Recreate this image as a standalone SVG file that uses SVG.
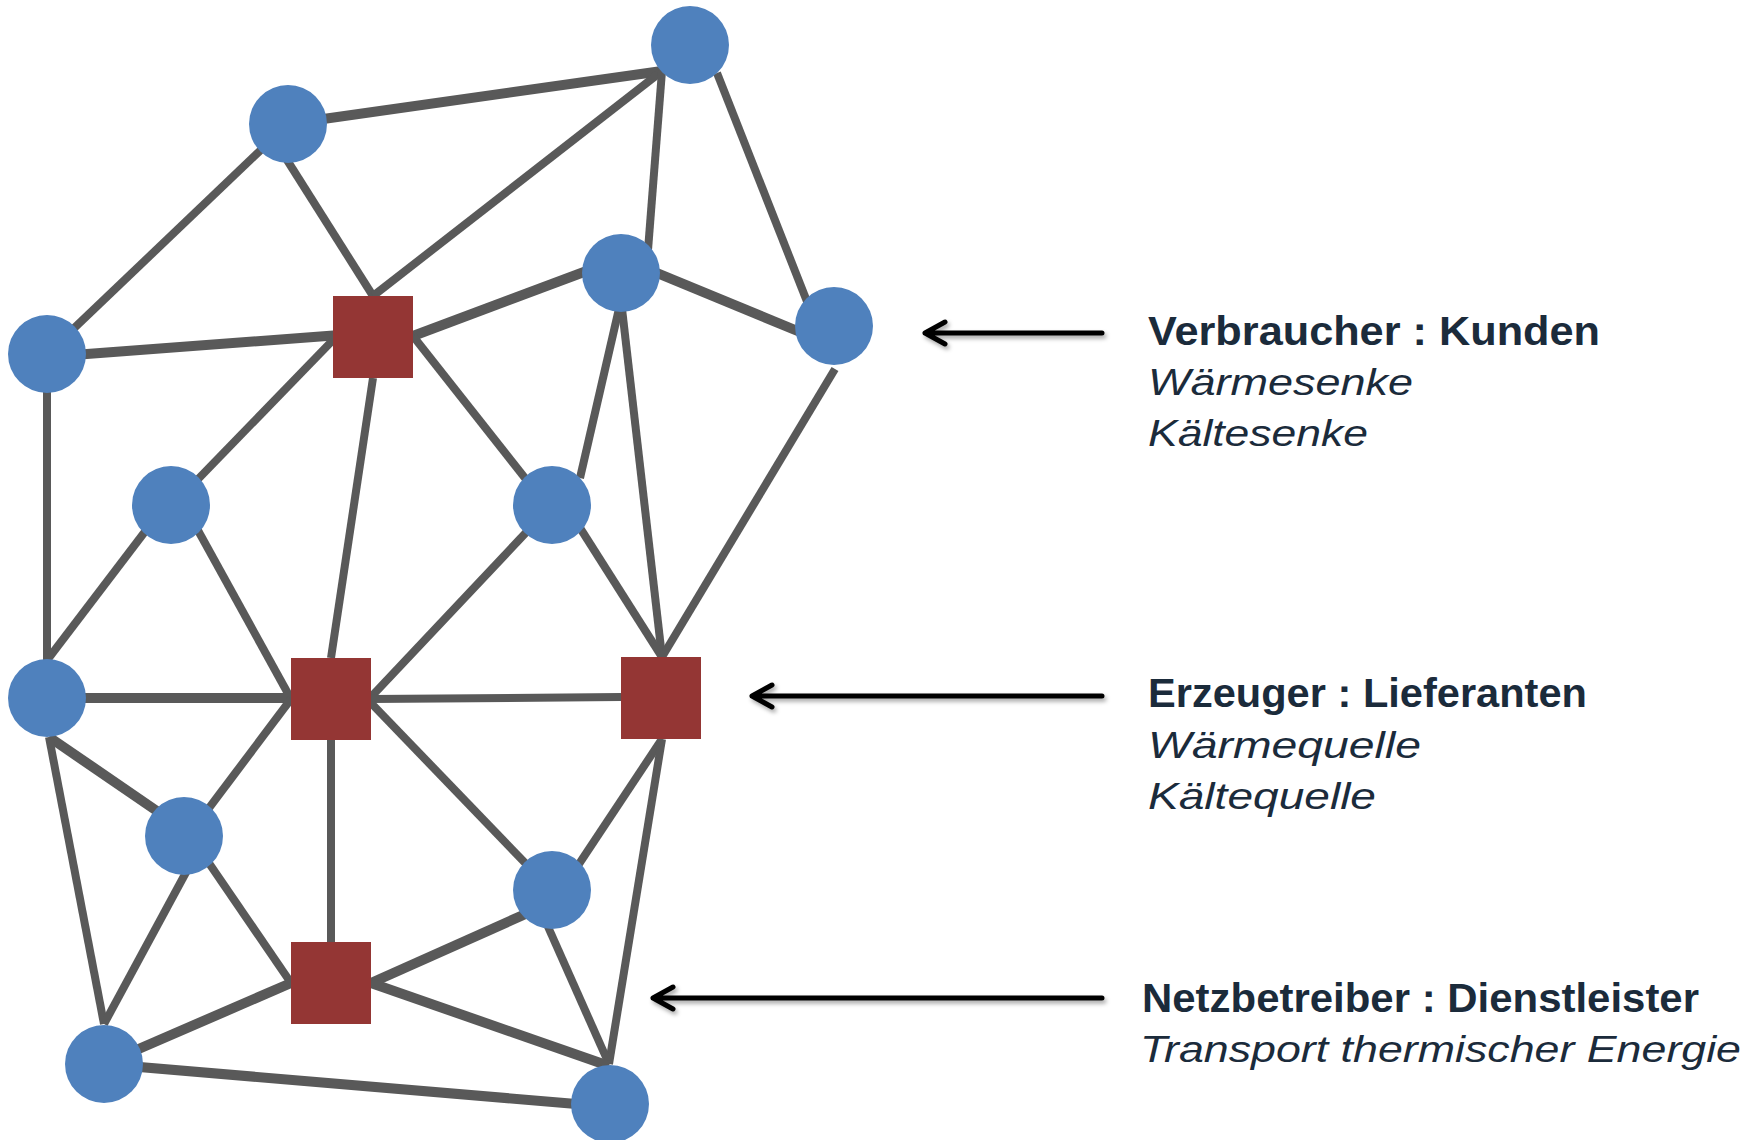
<svg xmlns="http://www.w3.org/2000/svg" width="1764" height="1140" viewBox="0 0 1764 1140">
<defs>
<style>
.e{stroke:#595959;stroke-width:8;fill:none;stroke-linecap:butt}
.t{stroke-width:10}
.c{fill:#4F81BD}
.s{fill:#943634}
.ar{stroke:#000;stroke-width:5;fill:none;stroke-linecap:round;stroke-linejoin:round}
.h{font-family:"Liberation Sans",Arial,sans-serif;font-weight:bold;font-size:41px;fill:#1B2B3B}
.i{font-family:"Liberation Sans",Arial,sans-serif;font-style:italic;font-size:37px;fill:#1B2B3B}
</style>
<filter id="sh" x="-10%" y="-100%" width="120%" height="300%">
<feDropShadow dx="2" dy="3" stdDeviation="2" flood-color="#000" flood-opacity="0.35"/>
</filter>
</defs>
<rect width="1764" height="1140" fill="#fff"/>
<g id="connectors">
<line class="e t" x1="288" y1="124" x2="662" y2="71"/>
<line class="e" x1="287" y1="160" x2="373" y2="296"/>
<line class="e" x1="373" y1="296" x2="662" y2="71"/>
<line class="e" x1="47" y1="354" x2="288" y2="124"/>
<line class="e t" x1="47" y1="357" x2="340" y2="335"/>
<line class="e" x1="648" y1="250" x2="662" y2="71"/>
<line class="e" x1="717" y1="73" x2="808" y2="304"/>
<line class="e t" x1="413" y1="336" x2="600" y2="266"/>
<line class="e t" x1="640" y1="266" x2="800" y2="332"/>
<line class="e" x1="333" y1="340" x2="171" y2="507"/>
<line class="e" x1="373" y1="378" x2="331" y2="658"/>
<line class="e" x1="413" y1="336" x2="540" y2="497"/>
<line class="e" x1="621" y1="300" x2="580" y2="478"/>
<line class="e" x1="621" y1="300" x2="662" y2="657"/>
<line class="e" x1="835" y1="369" x2="662" y2="657"/>
<line class="e" x1="47" y1="354" x2="47" y2="698"/>
<line class="e" x1="150" y1="525" x2="48" y2="659"/>
<line class="e" x1="195" y1="525" x2="291" y2="699"/>
<line class="e" x1="552" y1="505" x2="371" y2="697"/>
<line class="e" x1="575" y1="520" x2="662" y2="657"/>
<line class="e t" x1="47" y1="698" x2="291" y2="698"/>
<line class="e" x1="371" y1="699" x2="621" y2="697"/>
<line class="e t" x1="49" y1="737" x2="170" y2="820"/>
<line class="e" x1="49" y1="737" x2="104" y2="1024"/>
<line class="e" x1="200" y1="820" x2="291" y2="699"/>
<line class="e" x1="200" y1="850" x2="291" y2="983"/>
<line class="e" x1="190" y1="865" x2="104" y2="1024"/>
<line class="e" x1="331" y1="740" x2="331" y2="942"/>
<line class="e" x1="371" y1="703" x2="530" y2="868"/>
<line class="e" x1="662" y1="739" x2="575" y2="870"/>
<line class="e" x1="662" y1="739" x2="609" y2="1064"/>
<line class="e t" x1="530" y1="912" x2="371" y2="983"/>
<line class="e" x1="545" y1="920" x2="609" y2="1064"/>
<line class="e t" x1="371" y1="983" x2="609" y2="1066"/>
<line class="e t" x1="291" y1="983" x2="104" y2="1064"/>
<line class="e t" x1="104" y1="1064" x2="600" y2="1106"/>
</g>
<g id="n1"><circle class="c" cx="690" cy="45" r="39"/></g>
<g id="n2"><circle class="c" cx="288" cy="124" r="39"/></g>
<g id="n3"><circle class="c" cx="47" cy="354" r="39"/></g>
<g id="n4"><circle class="c" cx="621" cy="273" r="39"/></g>
<g id="n5"><circle class="c" cx="834" cy="326" r="39"/></g>
<g id="n6"><circle class="c" cx="171" cy="505" r="39"/></g>
<g id="n7"><circle class="c" cx="552" cy="505" r="39"/></g>
<g id="n8"><circle class="c" cx="47" cy="698" r="39"/></g>
<g id="n9"><circle class="c" cx="184" cy="836" r="39"/></g>
<g id="n10"><circle class="c" cx="552" cy="890" r="39"/></g>
<g id="n11"><circle class="c" cx="104" cy="1064" r="39"/></g>
<g id="n12"><circle class="c" cx="610" cy="1104" r="39"/></g>
<g id="sA"><rect class="s" x="333" y="296" width="80" height="82"/></g>
<g id="sB"><rect class="s" x="291" y="658" width="80" height="82"/></g>
<g id="sC"><rect class="s" x="621" y="657" width="80" height="82"/></g>
<g id="sD"><rect class="s" x="291" y="942" width="80" height="82"/></g>
<g id="arrows" filter="url(#sh)">
<path class="ar" d="M1102 333H925M945 322L925 333L945 344"/>
<path class="ar" d="M1102 696H752M772 685L752 696L772 707"/>
<path class="ar" d="M1102 998H653M673 987L653 998L673 1009"/>
</g>
<g id="label1">
<text class="h" x="1148" y="345" textLength="452" lengthAdjust="spacingAndGlyphs">Verbraucher : Kunden</text>
<text class="i" x="1148" y="395" textLength="265" lengthAdjust="spacingAndGlyphs">Wärmesenke</text>
<text class="i" x="1148" y="446" textLength="220" lengthAdjust="spacingAndGlyphs">Kältesenke</text>
</g>
<g id="label2">
<text class="h" x="1148" y="707" textLength="439" lengthAdjust="spacingAndGlyphs">Erzeuger : Lieferanten</text>
<text class="i" x="1148" y="758" textLength="273" lengthAdjust="spacingAndGlyphs">Wärmequelle</text>
<text class="i" x="1148" y="809" textLength="228" lengthAdjust="spacingAndGlyphs">Kältequelle</text>
</g>
<g id="label3">
<text class="h" x="1142" y="1012" textLength="557" lengthAdjust="spacingAndGlyphs">Netzbetreiber : Dienstleister</text>
<text class="i" x="1140" y="1062" textLength="601" lengthAdjust="spacingAndGlyphs">Transport thermischer Energie</text>
</g>
</svg>
